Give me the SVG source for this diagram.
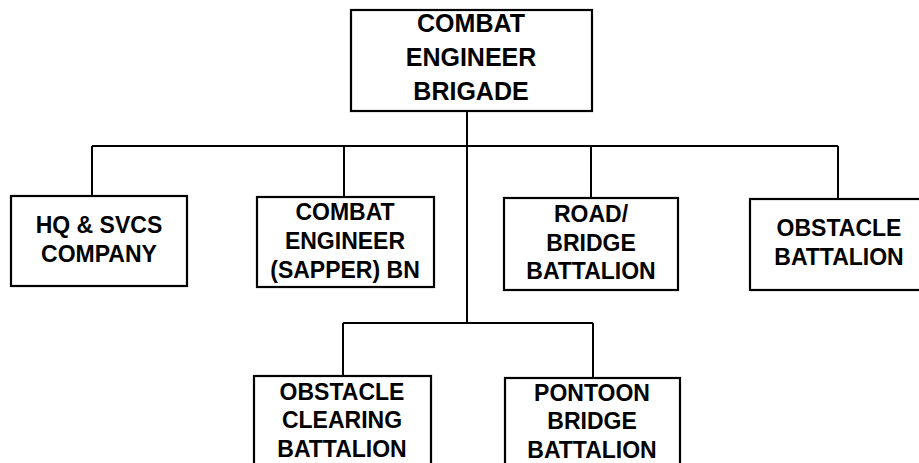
<svg xmlns="http://www.w3.org/2000/svg" width="919" height="463" viewBox="0 0 919 463">
<style>
.box{fill:#fff;stroke:#000;stroke-width:2.2}
.ln{fill:none;stroke:#000;stroke-width:2}
text{font-family:"Liberation Sans",Arial,sans-serif;font-weight:bold;font-size:23px;text-anchor:middle;fill:#000}
.big{font-size:25px}
</style>
<rect width="919" height="463" fill="#fff"/>
<g id="connectors">
<path class="ln" d="M467 111 V323"/>
<path class="ln" d="M92 146 H838"/>
<path class="ln" d="M92 146 V196 M344 146 V197 M591 146 V198 M838 146 V199"/>
<path class="ln" d="M343 323 H593 M343 323 V376 M593 323 V378"/>
</g>
<g id="brigade">
<rect class="box" x="351" y="10" width="241" height="101"/>
<text class="big" x="471" y="32">COMBAT</text>
<text class="big" x="471" y="66">ENGINEER</text>
<text class="big" x="471" y="100">BRIGADE</text>
</g>
<g id="hq">
<rect class="box" x="11" y="196" width="176" height="90"/>
<text x="99" y="233">HQ &amp; SVCS</text>
<text x="99" y="262">COMPANY</text>
</g>
<g id="sapper">
<rect class="box" x="257" y="197" width="177" height="90"/>
<text x="345" y="220">COMBAT</text>
<text x="345" y="249">ENGINEER</text>
<text x="345" y="278">(SAPPER) BN</text>
</g>
<g id="roadbridge">
<rect class="box" x="504" y="198" width="174" height="92"/>
<text x="591" y="222">ROAD/</text>
<text x="591" y="251">BRIDGE</text>
<text x="591" y="279">BATTALION</text>
</g>
<g id="obstacle">
<rect class="box" x="750" y="199" width="175" height="91"/>
<text x="839" y="236">OBSTACLE</text>
<text x="839" y="265">BATTALION</text>
</g>
<g id="clearing">
<rect class="box" x="254" y="376" width="177" height="95"/>
<text x="342" y="400">OBSTACLE</text>
<text x="342" y="428">CLEARING</text>
<text x="342" y="457">BATTALION</text>
</g>
<g id="pontoon">
<rect class="box" x="505" y="378" width="175" height="95"/>
<text x="592" y="401">PONTOON</text>
<text x="592" y="429">BRIDGE</text>
<text x="592" y="458">BATTALION</text>
</g>
</svg>
